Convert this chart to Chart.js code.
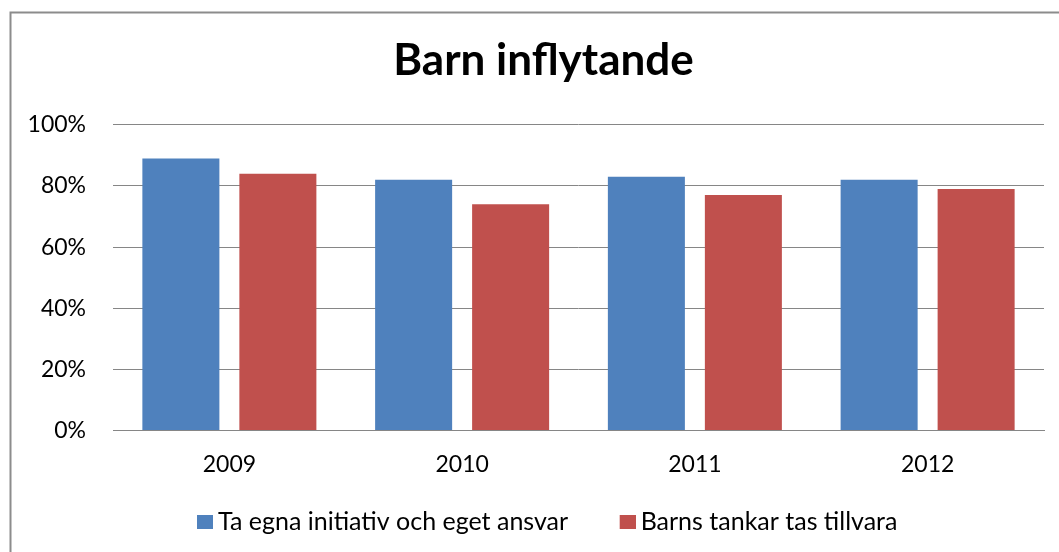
<!DOCTYPE html>
<html>
<head>
<meta charset="utf-8">
<script src="https://cdn.jsdelivr.net/npm/chart.js@4.4.1/dist/chart.umd.min.js"></script>
<style>
  html, body { margin: 0; padding: 0; background: #fff; }
  #wrap { width: 1059px; height: 552px; position: relative; }
</style>
</head>
<body>
<div id="wrap"><canvas id="chart"></canvas></div>
<script>
// data
const years = ["2009", "2010", "2011", "2012"];
const initiativ = [89, 82, 83, 82];   // Ta egna initiativ och eget ansvar
const tankar = [84, 74, 77, 79];      // Barns tankar tas tillvara
const yTicks = [0, 20, 40, 60, 80, 100];

const FONT = "Lato, 'Open Sans', sans-serif";
const BLUE = "#4f81bd";
const RED = "#c0504d";

// legend swatch: 16x14 square at the right end of a wider transparent image,
// so the square sits close to its text and the items get Excel-like spacing
function swatch(color) {
    const c = document.createElement("canvas");
    c.width = 45;
    c.height = 14;
    const g = c.getContext("2d");
    g.fillStyle = color;
    g.fillRect(29, 0, 16, 14);
    return c;
}
const swatches = [swatch(BLUE), swatch(RED)];

// gray frame round the chart (open at right and bottom, like the cropped original)
// and title/legend moved to where the original has them
const framePlugin = {
    id: "frame",
    afterLayout(chart) {
        chart.titleBlock.left = 43;
        chart.legend.left = 145.5;
    },
    beforeDraw(chart) {
        const ctx = chart.ctx;
        ctx.save();
        ctx.strokeStyle = "#8c8c8c";
        ctx.lineWidth = 2;
        ctx.beginPath();
        ctx.moveTo(10.5, 552);
        ctx.lineTo(10.5, 12.5);
        ctx.lineTo(1059, 12.5);
        ctx.stroke();
        ctx.restore();
    }
};

new Chart(document.getElementById("chart"), {
    type: "bar",
    data: {
        labels: years,
        datasets: [
            { label: "Ta egna initiativ och eget ansvar", data: initiativ, backgroundColor: BLUE },
            { label: "Barns tankar tas tillvara", data: tankar, backgroundColor: RED }
        ]
    },
    options: {
        responsive: true,
        maintainAspectRatio: false,
        animation: false,
        categoryPercentage: 0.8335,
        barPercentage: 0.794,
        layout: {
            padding: { left: 0, right: 15, top: 0, bottom: 8 }
        },
        plugins: {
            title: {
                display: true,
                text: "Barn inflytande",
                color: "#000",
                font: { family: FONT, size: 44, weight: "bold", lineHeight: 1.2 },
                padding: { top: 34, bottom: 38 }
            },
            legend: {
                position: "bottom",
                align: "start",
                labels: {
                    color: "#000",
                    font: { family: FONT, size: 25 },
                    usePointStyle: true,
                    pointStyleWidth: 30,
                    padding: 30,
                    generateLabels(chart) {
                        const items = Chart.defaults.plugins.legend.labels.generateLabels(chart);
                        items.forEach((it, i) => { it.pointStyle = swatches[i]; });
                        return items;
                    }
                }
            },
            tooltip: { enabled: false }
        },
        scales: {
            x: {
                afterFit(scale) { scale.height = 48.5; },
                grid: { display: false, drawTicks: false },
                border: { display: true, color: "#868686" },
                ticks: {
                    color: "#000",
                    font: { family: FONT, size: 23 },
                    padding: 20.5
                }
            },
            y: {
                min: 0,
                max: 100,
                afterFit(scale) { scale.width = 113; },
                afterBuildTicks(scale) {
                    scale.ticks = yTicks.map(v => ({ value: v }));
                },
                grid: { color: "#868686", lineWidth: 1, drawTicks: false },
                border: { display: false },
                ticks: {
                    color: "#000",
                    font: { family: FONT, size: 23 },
                    padding: 27,
                    callback: v => v + "%"
                }
            }
        }
    },
    plugins: [framePlugin]
});
</script>
</body>
</html>
